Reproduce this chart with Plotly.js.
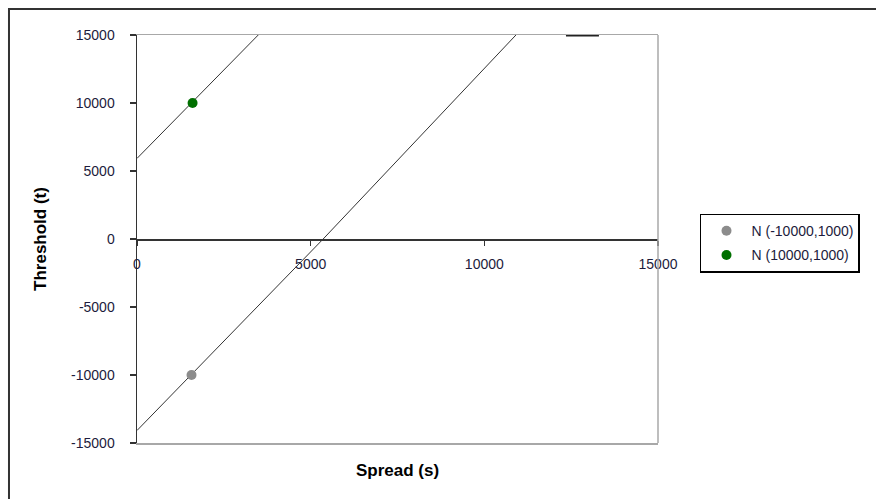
<!DOCTYPE html>
<html>
<head>
<meta charset="utf-8">
<script src="https://cdn.plot.ly/plotly-3.0.1.min.js"></script>
<style>html,body{margin:0;padding:0;background:#fff;}</style>
</head>
<body>
<div id="chart" style="width:876px;height:499px;"></div>
<script>
// Lines (threshold as a function of spread)
const upperLineSpread = [0, 3490];
const upperLineThreshold = [5925, 15000];
const lowerLineSpread = [0, 5360, 10910];
const lowerLineThreshold = [-14080, 0, 15000];
const topSegmentSpread = [12350, 13300];
const topSegmentThreshold = [15000, 15000];

// Series points
const seriesNames = ['N (-10000,1000)', 'N (10000,1000)'];
const seriesColors = ['#8c8c8c', '#007000'];
const negSpread = [1570];
const negThreshold = [-10000];
const posSpread = [1600];
const posThreshold = [10000];

// Axis ticks
const tickVals = [0, 5000, 10000, 15000];
const yTickVals = [-15000, -10000, -5000, 0, 5000, 10000, 15000];

const tickFont = {family: 'Liberation Sans, Arial, sans-serif', size: 14, color: '#1c1c3c'};
const titleFont = {family: 'Liberation Sans, Arial, sans-serif', size: 17, color: '#000', weight: 'bold'};

const traces = [
  {x: upperLineSpread, y: upperLineThreshold, mode: 'lines', line: {color: '#333', width: 1}, showlegend: false, hoverinfo: 'skip'},
  {x: lowerLineSpread, y: lowerLineThreshold, mode: 'lines', line: {color: '#333', width: 1}, showlegend: false, hoverinfo: 'skip'},
  {x: topSegmentSpread, y: topSegmentThreshold, mode: 'lines', line: {color: '#222', width: 3}, showlegend: false, hoverinfo: 'skip', cliponaxis: false},
  {x: negSpread, y: negThreshold, xaxis: 'x2', mode: 'markers', name: seriesNames[0], legendgroup: 'a',
   marker: {color: seriesColors[0], size: 10, symbol: 'circle'}},
  {x: posSpread, y: posThreshold, xaxis: 'x2', mode: 'markers', name: seriesNames[1], legendgroup: 'b',
   marker: {color: seriesColors[1], size: 10, symbol: 'circle'}}
];

const layout = {
  width: 876, height: 499,
  margin: {l: 137, r: 218, t: 35, b: 56, pad: 0},
  paper_bgcolor: '#fff', plot_bgcolor: '#fff',
  showlegend: true,
  xaxis: {
    range: [0, 15000], showline: true, linecolor: '#a8a8a8', linewidth: 1.5, mirror: true,
    ticks: '', showticklabels: false, showgrid: false, zeroline: false,
    title: {text: 'Spread (s)', font: titleFont, standoff: 20}
  },
  xaxis2: {
    overlaying: 'x', matches: 'x', anchor: 'free', position: 0.5, side: 'bottom',
    range: [0, 15000], tickvals: tickVals, ticktext: tickVals.map(String),
    showline: true, linecolor: '#333', linewidth: 1.5,
    ticks: 'outside', ticklen: 5, tickcolor: '#333', tickwidth: 1.5,
    showgrid: false, zeroline: false, tickfont: tickFont, ticklabelstandoff: 7
  },
  yaxis: {
    range: [-15000, 15000], tickvals: yTickVals, ticktext: yTickVals.map(String),
    showline: true, linecolor: '#333', linewidth: 1.5,
    ticks: 'outside', ticklen: 6, tickcolor: '#333', tickwidth: 1.5,
    showgrid: false, zeroline: false, tickfont: tickFont, ticklabelstandoff: 12,
    title: {text: 'Threshold (t)', font: titleFont, standoff: 20}
  },
  legend: {
    x: 1.0806, y: 0.562, xanchor: 'left', yanchor: 'top',
    bordercolor: '#000', borderwidth: 1.5, bgcolor: '#fff',
    font: {family: 'Liberation Sans, Arial, sans-serif', size: 14, color: '#1c1c3c'},
    tracegroupgap: 3, itemwidth: 40
  },
  shapes: [
    {type: 'line', xref: 'paper', yref: 'paper', x0: 1, x1: 1, y0: 0, y1: 1, line: {color: '#a8a8a8', width: 1.5}},
    {type: 'rect', xref: 'paper', yref: 'paper', x0: -0.2457, x1: 2, y0: -1, y1: 1.0637, line: {color: '#333', width: 2}, fillcolor: 'rgba(0,0,0,0)'}
  ]
};

Plotly.newPlot('chart', traces, layout, {displayModeBar: false, staticPlot: true});
</script>
</body>
</html>
